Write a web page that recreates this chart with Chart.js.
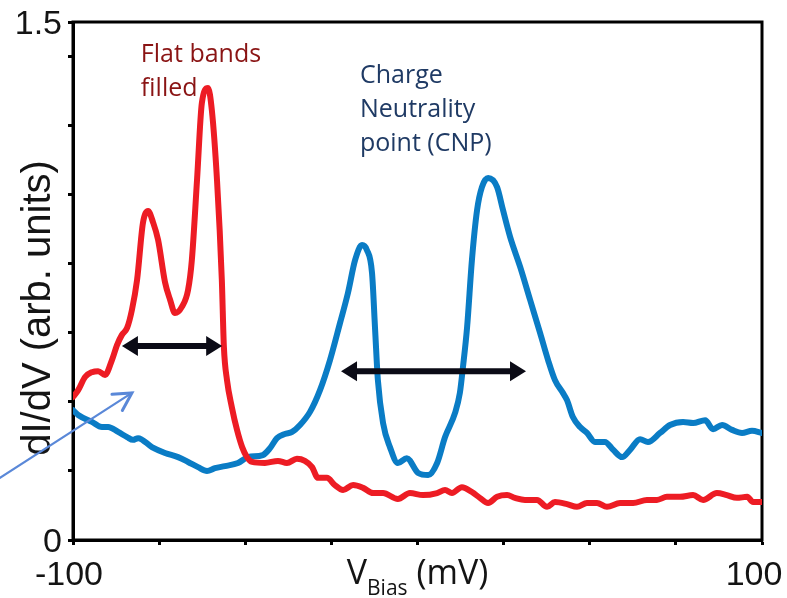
<!DOCTYPE html>
<html>
<head>
<meta charset="utf-8">
<script src="https://cdn.jsdelivr.net/npm/chart.js@4/dist/chart.umd.min.js"></script>
<style>
  html, body { margin: 0; padding: 0; background: #fff; }
  canvas { display: block; }
</style>
</head>
<body>
<canvas id="chart" width="787" height="598"></canvas>
<script>
// ── Spectra ───────────────────────────────────────────────────────────────────
// Bias in mV, dI/dV in arbitrary units
const redBias = [-100, -98.5, -96.5, -94.5, -92.7, -90.7, -88.7, -87.2, -85.8, -84.3,
  -82.9, -81.4, -79.7, -78.2, -76.8, -75.3, -73.3, -71.8, -70.4, -68.4,
  -66.6, -65.5, -64.0, -62.6, -60.8, -59.7, -58.2, -56.8, -56.2, -55.3,
  -53.9, -52.4, -50.9, -49.5, -48.0, -44.3, -40.5, -37.9, -35.0, -32.7,
  -30.6, -28.9, -26.3, -24.0, -21.6, -18.7, -15.8, -12.9, -10.0, -5.7,
  -2.2, 1.6, 5.7, 8.0, 10.0, 12.9, 15.8, 18.1, 20.5, 23.1,
  26.0, 28.3, 31.2, 34.7, 37.6, 39.9, 43.4, 46.3, 49.2, 52.1,
  55.0, 58.8, 62.6, 66.6, 69.5, 72.4, 76.2, 80.0, 82.9, 86.9,
  89.8, 92.7, 95.7, 97.4, 100];
const redDidv = [0.414, 0.434, 0.472, 0.486, 0.489, 0.478, 0.521, 0.565, 0.594, 0.614,
  0.666, 0.753, 0.918, 0.953, 0.921, 0.869, 0.747, 0.695, 0.657, 0.675,
  0.724, 0.811, 1.042, 1.265, 1.309, 1.245, 1.042, 0.753, 0.559, 0.463,
  0.385, 0.319, 0.269, 0.240, 0.226, 0.223, 0.229, 0.223, 0.235, 0.229,
  0.211, 0.180, 0.180, 0.159, 0.145, 0.159, 0.151, 0.136, 0.136, 0.119,
  0.136, 0.130, 0.136, 0.145, 0.136, 0.153, 0.139, 0.122, 0.107, 0.125,
  0.130, 0.122, 0.116, 0.116, 0.096, 0.110, 0.104, 0.096, 0.107, 0.107,
  0.096, 0.107, 0.107, 0.116, 0.116, 0.125, 0.125, 0.130, 0.116, 0.136,
  0.130, 0.122, 0.125, 0.110, 0.110];

const blueBias = [-100, -98.5, -94.5, -91.6, -89.8, -86.9, -84.3, -82.6, -81.1, -77.1,
  -73.3, -69.5, -66.6, -63.7, -61.1, -58.8, -55.9, -52.1, -49.2, -44.9,
  -42.8, -40.8, -38.5, -36.4, -34.1, -31.2, -28.3, -25.4, -22.5, -20.2,
  -18.1, -16.1, -14.7, -13.2, -12.3, -11.5, -10.0, -8.0, -5.7, -3.1,
  0.2, 3.1, 5.7, 8.0, 10.9, 12.3, 13.2, 14.4, 15.8, 17.3,
  18.7, 20.5, 23.1, 24.8, 26.9, 29.8, 32.7, 35.6, 37.9, 39.9,
  42.2, 43.4, 45.1, 47.2, 49.2, 51.5, 54.4, 56.8, 59.4, 61.7,
  64.6, 66.9, 70.4, 73.3, 77.1, 80.0, 83.5, 85.8, 88.4, 91.3,
  94.2, 97.1, 100];
const blueDidv = [0.376, 0.362, 0.342, 0.327, 0.327, 0.313, 0.298, 0.290, 0.295, 0.269,
  0.252, 0.240, 0.226, 0.211, 0.200, 0.208, 0.214, 0.223, 0.240, 0.246,
  0.266, 0.295, 0.307, 0.313, 0.333, 0.371, 0.434, 0.521, 0.628, 0.715,
  0.811, 0.854, 0.840, 0.773, 0.608, 0.463, 0.339, 0.269, 0.223, 0.237,
  0.194, 0.188, 0.223, 0.298, 0.368, 0.426, 0.501, 0.617, 0.811, 0.956,
  1.022, 1.048, 1.022, 0.956, 0.877, 0.791, 0.695, 0.599, 0.521, 0.463,
  0.426, 0.405, 0.356, 0.327, 0.310, 0.284, 0.284, 0.261, 0.240, 0.261,
  0.292, 0.284, 0.310, 0.333, 0.342, 0.339, 0.347, 0.321, 0.333, 0.319,
  0.310, 0.316, 0.310];

// Only the axis ends carry numbers
const xTickLabels = [-100, 100];
const yTickLabels = [0, 1.5];

// Annotation text and arrows (data coordinates)
const flatLines   = ['Flat bands', 'filled'];
const flatAt      = [-80.3, 1.384];
const cnpLines    = ['Charge', 'Neutrality', 'point (CNP)'];
const cnpAt       = [-16.7, 1.323];
const gapArrows   = [[-85.8, -56.7, 0.562], [-22.2, 31.5, 0.489]];
const pointerFrom = [-121.2, 0.180];
const pointerTo   = [-82.9, 0.426];

const toXY = (xs, ys) => xs.map((x, i) => ({ x, y: ys[i] }));

// ── Frame, labels and arrows ─────────────────────────────────────────────────
function doubleArrow(ctx, x1, x2, y) {
  const hl = 16, hw = 10;
  ctx.save();
  ctx.strokeStyle = ctx.fillStyle = '#0b0b16';
  ctx.lineWidth = 6;
  ctx.beginPath();
  ctx.moveTo(x1 + hl - 2, y); ctx.lineTo(x2 - hl + 2, y);
  ctx.stroke();
  ctx.beginPath();
  ctx.moveTo(x1, y); ctx.lineTo(x1 + hl, y - hw); ctx.lineTo(x1 + hl, y + hw); ctx.closePath();
  ctx.moveTo(x2, y); ctx.lineTo(x2 - hl, y - hw); ctx.lineTo(x2 - hl, y + hw); ctx.closePath();
  ctx.fill();
  ctx.restore();
}

const decorations = {
  id: 'decorations',
  beforeDatasetsDraw(chart) {
    const { ctx, chartArea: a } = chart;
    ctx.save();
    ctx.strokeStyle = '#000';
    ctx.lineWidth = 3;
    ctx.strokeRect(a.left, a.top, a.right - a.left, a.bottom - a.top);
    ctx.restore();
  },
  afterDraw(chart) {
    const { ctx, chartArea: a } = chart;
    const xs = chart.scales.x, ys = chart.scales.y;
    ctx.save();

    // tick numbers
    ctx.fillStyle = '#141414';
    ctx.font = '34px "Liberation Sans", Arial, sans-serif';
    ctx.textAlign = 'right';
    ctx.textBaseline = 'middle';
    yTickLabels.forEach(v => ctx.fillText(String(v), a.left - 11, ys.getPixelForValue(v) + 3));
    ctx.textAlign = 'center';
    ctx.textBaseline = 'top';
    xTickLabels.forEach((v, i) => {
      const px = xs.getPixelForValue(v) + (i === 0 ? -4 : -8);
      ctx.fillText(String(v), px, a.bottom + 19);
    });

    // y title
    ctx.save();
    ctx.translate(50, (a.top + a.bottom) / 2 + 27);
    ctx.rotate(-Math.PI / 2);
    ctx.font = '40px "Liberation Sans", Arial, sans-serif';
    ctx.textAlign = 'center';
    ctx.textBaseline = 'alphabetic';
    ctx.fillText('dI/dV (arb. units)', 0, 0);
    ctx.restore();

    // x title with subscript
    const big = '34px "Open Sans", sans-serif', small = '21px "Open Sans", sans-serif';
    ctx.textAlign = 'left';
    ctx.textBaseline = 'alphabetic';
    ctx.font = big;   const wV = ctx.measureText('V').width;
    const wRest = ctx.measureText(' (mV)').width;
    ctx.font = small; const wSub = ctx.measureText('Bias').width;
    let tx = (a.left + a.right) / 2 - (wV + wSub + wRest) / 2;
    const base = a.bottom + 44;
    ctx.font = big;   ctx.fillText('V', tx, base); tx += wV;
    ctx.font = small; ctx.fillText('Bias', tx, base + 11); tx += wSub;
    ctx.font = big;   ctx.fillText(' (mV)', tx, base);

    // annotations
    ctx.font = '25px "Open Sans", sans-serif';
    ctx.fillStyle = '#8a1414';
    flatLines.forEach((s, i) =>
      ctx.fillText(s, xs.getPixelForValue(flatAt[0]), ys.getPixelForValue(flatAt[1]) + i * 34));
    ctx.fillStyle = '#1f3a64';
    cnpLines.forEach((s, i) =>
      ctx.fillText(s, xs.getPixelForValue(cnpAt[0]), ys.getPixelForValue(cnpAt[1]) + i * 34));

    gapArrows.forEach(([x1, x2, y]) =>
      doubleArrow(ctx, xs.getPixelForValue(x1), xs.getPixelForValue(x2), ys.getPixelForValue(y)));

    // thin pointer arrow
    const p0x = xs.getPixelForValue(pointerFrom[0]), p0y = ys.getPixelForValue(pointerFrom[1]);
    const p1x = xs.getPixelForValue(pointerTo[0]),   p1y = ys.getPixelForValue(pointerTo[1]);
    const ang = Math.atan2(p1y - p0y, p1x - p0x);
    ctx.strokeStyle = '#5a88d8';
    ctx.lineWidth = 2.2;
    ctx.lineCap = 'round';
    ctx.beginPath();
    ctx.moveTo(p0x, p0y); ctx.lineTo(p1x, p1y);
    ctx.stroke();
    ctx.lineWidth = 3;
    ctx.beginPath();
    ctx.moveTo(p1x - 20 * Math.cos(ang - 0.5), p1y - 20 * Math.sin(ang - 0.5));
    ctx.lineTo(p1x, p1y);
    ctx.lineTo(p1x - 20 * Math.cos(ang + 0.5), p1y - 20 * Math.sin(ang + 0.5));
    ctx.stroke();

    ctx.restore();
  }
};

// ── Chart ─────────────────────────────────────────────────────────────────────
const axisGrid = { drawOnChartArea: false, drawTicks: true, tickLength: 5, tickWidth: 3, tickColor: '#000' };

new Chart(document.getElementById('chart'), {
  type: 'line',
  data: {
    datasets: [
      { label: 'filled', data: toXY(redBias, redDidv), borderColor: '#ed1c24' },
      { label: 'CNP',    data: toXY(blueBias, blueDidv), borderColor: '#0a7cc5' },
    ]
  },
  options: {
    responsive: false,
    animation: false,
    devicePixelRatio: 1,
    layout: { padding: { top: 22, right: 25, left: 0, bottom: 0 } },
    elements: {
      line: { borderWidth: 6, cubicInterpolationMode: 'monotone', borderJoinStyle: 'round', borderCapStyle: 'round' },
      point: { radius: 0 }
    },
    plugins: { legend: { display: false }, tooltip: { enabled: false } },
    scales: {
      x: {
        type: 'linear', min: -100, max: 100,
        ticks: { stepSize: 25, display: false },
        grid: axisGrid,
        border: { display: true, width: 3, color: '#000' },
        afterFit: s => { s.height = 58; }
      },
      y: {
        type: 'linear', min: 0, max: 1.5,
        ticks: { stepSize: 0.2, display: false },
        grid: axisGrid,
        border: { display: true, width: 3, color: '#000' },
        afterFit: s => { s.width = 73; }
      }
    }
  },
  plugins: [decorations]
});
</script>
</body>
</html>
